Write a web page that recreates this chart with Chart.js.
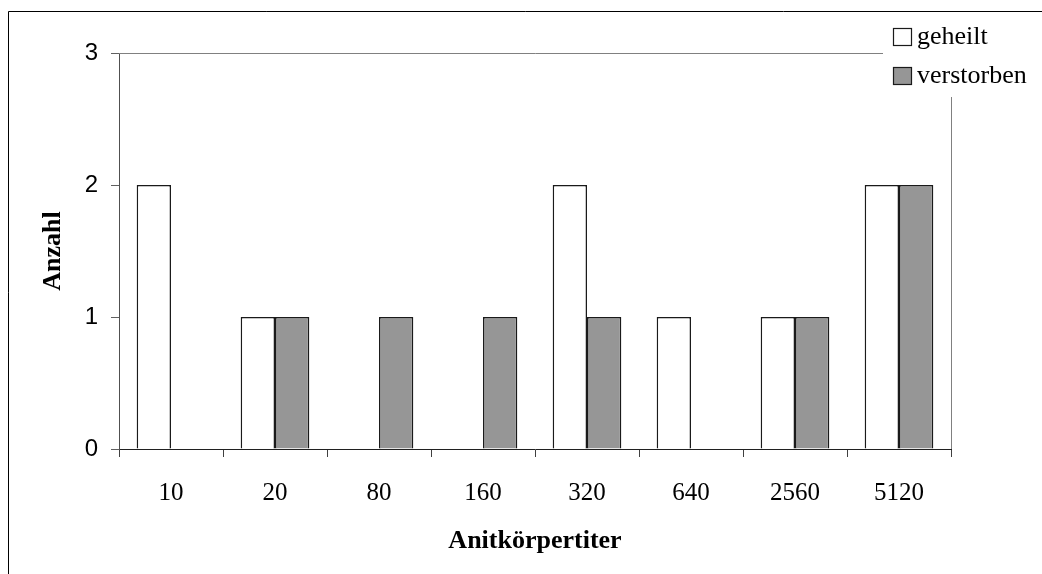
<!DOCTYPE html>
<html>
<head>
<meta charset="utf-8">
<script src="https://cdn.jsdelivr.net/npm/chart.js@4/dist/chart.umd.min.js"></script>
<style>
html,body{margin:0;padding:0;background:#fff;}
#wrap{position:relative;width:1042px;height:574px;}
canvas{display:block;}
</style>
</head>
<body>
<div id="wrap"><canvas id="c" width="1042" height="574"></canvas></div>
<script>
const categories = ['10','20','80','160','320','640','2560','5120'];
const geheilt    = [2, 1, 0, 0, 2, 1, 1, 2];
const verstorben = [0, 1, 1, 1, 1, 0, 1, 2];
const yTicks = [0, 1, 2, 3];
const seriesNames = ['geheilt', 'verstorben'];
const seriesColors = ['#ffffff', '#969696'];

const serif = '"Liberation Serif", "Times New Roman", serif';
const sans = '"Liberation Sans", Arial, sans-serif';

const decor = {
  id: 'decor',
  beforeDatasetsDraw(chart) {
    const ctx = chart.ctx, a = chart.chartArea;
    ctx.save();
    // outer frame
    ctx.strokeStyle = '#000';
    ctx.lineWidth = 1;
    ctx.beginPath();
    ctx.moveTo(8.5, 574);
    ctx.lineTo(8.5, 11.5);
    ctx.lineTo(1042, 11.5);
    ctx.stroke();
    // plot area top and right border
    ctx.strokeStyle = '#808080';
    ctx.lineWidth = 1;
    ctx.beginPath();
    ctx.moveTo(a.left, Math.round(a.top) + 0.5);
    ctx.lineTo(Math.round(a.right) + 0.5, Math.round(a.top) + 0.5);
    ctx.lineTo(Math.round(a.right) + 0.5, a.bottom);
    ctx.stroke();
    ctx.restore();
  },
  afterDraw(chart) {
    const ctx = chart.ctx;
    ctx.save();
    // legend box background covering the plot border
    ctx.fillStyle = '#fff';
    ctx.fillRect(883, 14, 157, 83);
    const items = chart.data.datasets;
    ctx.font = '26px ' + serif;
    ctx.textBaseline = 'middle';
    ctx.textAlign = 'left';
    items.forEach((ds, i) => {
      const y = 28 + i * 39;
      ctx.fillStyle = ds.backgroundColor;
      ctx.fillRect(893.5, y + 0.5, 18, 17);
      ctx.strokeStyle = '#1a1a1a';
      ctx.lineWidth = 1.2;
      ctx.strokeRect(893.5, y + 0.5, 18, 17);
      ctx.fillStyle = '#000';
      ctx.fillText(ds.label, 917, y + 9);
    });
    ctx.restore();
  }
};

new Chart(document.getElementById('c'), {
  type: 'bar',
  data: {
    labels: categories,
    datasets: [
      { label: seriesNames[0], data: geheilt, backgroundColor: seriesColors[0], borderColor: '#1a1a1a', borderWidth: 1.5 },
      { label: seriesNames[1], data: verstorben, backgroundColor: seriesColors[1], borderColor: '#1a1a1a', borderWidth: 1.5 }
    ]
  },
  options: {
    responsive: false,
    animation: false,
    devicePixelRatio: 1,
    layout: { padding: { top: 53, right: 91, left: 0, bottom: 0 } },
    plugins: { legend: { display: false }, tooltip: { enabled: false } },
    datasets: { bar: { categoryPercentage: 0.66, barPercentage: 1.0 } },
    scales: {
      x: {
        offset: true,
        grid: { offset: true, drawOnChartArea: false, drawTicks: true, tickLength: 8, color: '#404040', lineWidth: 1 },
        border: { display: true, color: '#202020', width: 1 },
        ticks: { color: '#000', font: { family: serif, size: 25 }, padding: 21, maxRotation: 0, autoSkip: false },
        title: { display: true, text: 'Anitkörpertiter', color: '#000', font: { family: serif, size: 26, weight: 'bold' }, padding: { top: 0, bottom: 17 } },
        afterFit(s) { s.height = 125; }
      },
      y: {
        min: 0, max: 3,
        afterBuildTicks(s) { s.ticks = yTicks.map(v => ({ value: v })); },
        grid: { drawOnChartArea: false, drawTicks: true, tickLength: 8, color: '#606060', lineWidth: 1 },
        border: { display: true, color: '#505050', width: 1 },
        ticks: { color: '#000', font: { family: sans, size: 24 }, padding: 13 },
        title: { display: true, text: 'Anzahl', color: '#000', font: { family: serif, size: 26, weight: 'bold' }, padding: { top: 38, bottom: 0 } },
        afterFit(s) { s.width = 119; }
      }
    }
  },
  plugins: [decor]
});
</script>
</body>
</html>
